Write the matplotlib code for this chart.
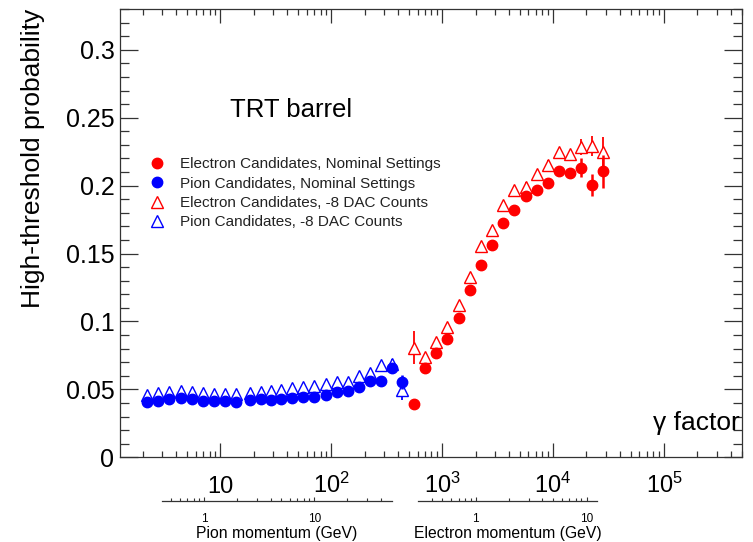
import matplotlib
matplotlib.use("Agg")
import matplotlib.pyplot as plt
import matplotlib.ticker as mticker

plt.rcParams['font.family'] = ['Liberation Sans', 'DejaVu Sans']
plt.rcParams['mathtext.fontset'] = 'custom'
plt.rcParams['mathtext.rm'] = 'Liberation Sans'

# pion candidates (gamma factor, high-threshold probability)
gamma_pi = [2.18, 2.74, 3.44, 4.41, 5.53, 6.95, 8.73, 11.0, 13.8, 18.4, 23.2, 28.5,
            35.1, 44.1, 55.4, 69.5, 89.1, 112, 141, 177, 222, 279, 351, 432]
pi_nom = [0.0404, 0.0414, 0.0426, 0.0436, 0.0426, 0.0416, 0.0414, 0.0414, 0.0409, 0.0421, 0.0426, 0.0425,
          0.0428, 0.0434, 0.0441, 0.0445, 0.0458, 0.0478, 0.0487, 0.0519, 0.0563, 0.0563, 0.0654, 0.0555]
pi_nom_err = [0.001] * 21 + [0.0015, 0.003, 0.005]
pi_dac = [0.046, 0.047, 0.048, 0.049, 0.048, 0.047, 0.0465, 0.0465, 0.0465, 0.047, 0.048, 0.0485,
          0.0494, 0.0507, 0.0519, 0.0524, 0.0536, 0.0551, 0.0555, 0.060, 0.0617, 0.0678, 0.069, 0.0494]
pi_dac_err = [0.001] * 21 + [0.002, 0.003, 0.0075]

# electron candidates
gamma_el = [553, 695, 887, 1114, 1409, 1770, 2223, 2792, 3508, 4407, 5653, 7103,
            8922, 11210, 14080, 17680, 22210, 27900]
el_nom = [0.0392, 0.0654, 0.0769, 0.0869, 0.1029, 0.1229, 0.1418, 0.1565, 0.1727, 0.1822, 0.1927, 0.1971,
          0.202, 0.211, 0.2094, 0.2133, 0.2006, 0.2106]
el_nom_err = [0.003] + [0.002] * 14 + [0.007, 0.008, 0.012]
el_dac = [0.0808, 0.0735, 0.0849, 0.096, 0.112, 0.133, 0.1553, 0.1675, 0.186, 0.197, 0.1993, 0.2087,
          0.2155, 0.2246, 0.2234, 0.2282, 0.229, 0.2246]
el_dac_err = [0.012] + [0.003] * 14 + [0.006, 0.0075, 0.011]

labels = ['Electron Candidates, Nominal Settings', 'Pion Candidates, Nominal Settings',
          'Electron Candidates, -8 DAC Counts', 'Pion Candidates, -8 DAC Counts']

W, H = 753, 542
fig = plt.figure(figsize=(W / 100, H / 100), dpi=100)
ax = fig.add_axes([120 / W, 1 - 457.3 / H, 622 / W, 448.3 / H])

# open triangles first (white inside, like ROOT), filled circles on top
e3 = ax.errorbar(gamma_el, el_dac, yerr=el_dac_err, fmt='^', color='red', mfc='white', ms=8.5,
                 mew=1.0, elinewidth=1.3, capsize=0, zorder=2)
e4 = ax.errorbar(gamma_pi, pi_dac, yerr=pi_dac_err, fmt='^', color='blue', mfc='white', ms=8.5,
                 mew=1.0, elinewidth=1.3, capsize=0, zorder=2)
e1 = ax.errorbar(gamma_el, el_nom, yerr=el_nom_err, fmt='o', color='red', ms=7.5,
                 elinewidth=1.8, capsize=0, zorder=3)
e2 = ax.errorbar(gamma_pi, pi_nom, yerr=pi_nom_err, fmt='o', color='blue', ms=7.5,
                 elinewidth=1.8, capsize=0, zorder=3)

ax.set_xscale('log')
ax.set_xlim(1.245, 5.05e5)
ax.set_ylim(0, 0.33)

ax.set_xticks([10, 1e2, 1e3, 1e4, 1e5],
              ['10', r'$\mathdefault{10^{2}}$', r'$\mathdefault{10^{3}}$',
               r'$\mathdefault{10^{4}}$', r'$\mathdefault{10^{5}}$'])
ax.xaxis.set_minor_locator(mticker.LogLocator(base=10, subs=range(2, 10), numticks=20))
ax.xaxis.set_minor_formatter(mticker.NullFormatter())
ax.set_yticks([0, 0.05, 0.1, 0.15, 0.2, 0.25, 0.3],
              ['0', '0.05', '0.1', '0.15', '0.2', '0.25', '0.3'])
ax.yaxis.set_minor_locator(mticker.MultipleLocator(0.01))

ax.tick_params(which='both', direction='in', top=True, right=True, width=0.9, color='#333333')
ax.tick_params(axis='x', which='major', length=10, labelsize=17, pad=25.5)
ax.tick_params(axis='x', which='minor', length=4.5)
ax.tick_params(axis='y', which='major', length=13, labelsize=18, pad=4)
ax.tick_params(axis='y', which='minor', length=6.5)
for lab in ax.get_xticklabels():
    lab.set_verticalalignment('baseline')
for sp in ax.spines.values():
    sp.set_linewidth(0.9)
    sp.set_color('#333333')

ax.set_ylabel('High-threshold probability', fontsize=19, loc='top')
ax.yaxis.set_label_coords(-0.12, 1.0)

ax.text(0.997, 0.077, 'γ factor', transform=ax.transAxes, fontsize=19,
        ha='right', va='center')
ax.text(0.177, 0.775, 'TRT barrel', transform=ax.transAxes, fontsize=18.5,
        ha='left', va='center')

ax.legend(handles=[e1[0], e2[0], e3[0], e4[0]], labels=labels, loc='center left',
          bbox_to_anchor=(0.047, 0.5887), frameon=False, fontsize=11,
          handlelength=1.0, handletextpad=1.0, labelspacing=0.35,
          borderpad=0, borderaxespad=0, labelcolor='#222222')

# momentum axes under the gamma axis
def momentum_axis(x0, x1, pmin, pmax, title, minors):
    a = fig.add_axes([x0 / W, 1 - 500.7 / H, (x1 - x0) / W, 1e-4])
    a.set_xscale('log')
    a.set_xlim(pmin, pmax)
    a.set_yticks([])
    for s in ['top', 'left', 'right']:
        a.spines[s].set_visible(False)
    a.spines['bottom'].set_linewidth(0.9)
    a.spines['bottom'].set_color('#333333')
    a.set_xticks([1, 10], ['1', '10'])
    a.set_xticks(minors, minor=True)
    a.xaxis.set_minor_formatter(mticker.NullFormatter())
    a.tick_params(which='both', direction='in', width=0.8, color='#333333')
    a.tick_params(which='major', length=3.2, labelsize=8.5, pad=8.5)
    a.tick_params(which='minor', length=2)
    a.set_xlabel(title, fontsize=11.3, labelpad=0.8)
    return a

pi_minor = [0.5, 0.6, 0.7, 0.8, 0.9, 2, 3, 4, 5, 6, 7, 8, 9, 20, 30, 40]
el_minor = [0.4, 0.5, 0.6, 0.7, 0.8, 0.9, 2, 3, 4, 5, 6, 7, 8, 9]
momentum_axis(161.7, 391.7, 0.41, 50.5, 'Pion momentum (GeV)', pi_minor)
momentum_axis(417.7, 597.3, 0.30, 12.5, 'Electron momentum (GeV)', el_minor)

fig.savefig('out.png', dpi=100)
